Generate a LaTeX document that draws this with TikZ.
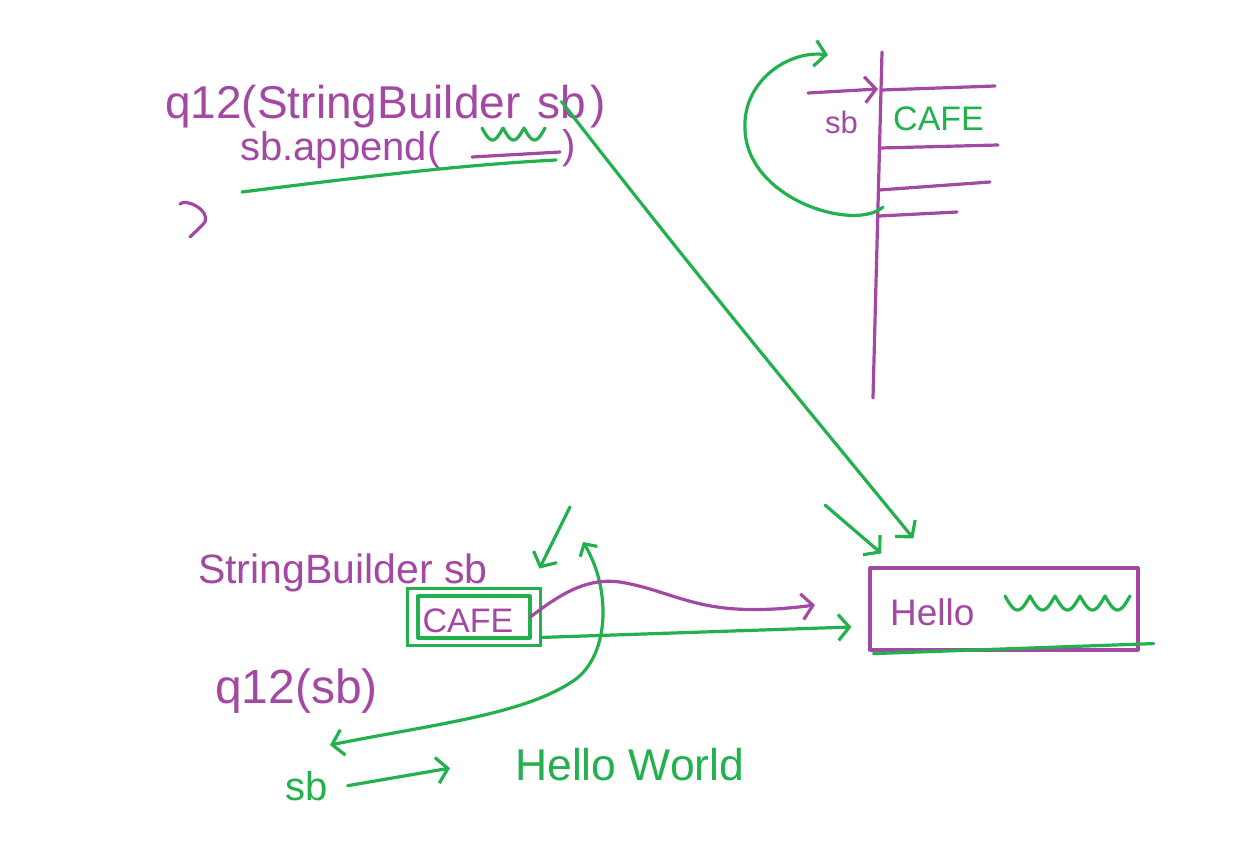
\documentclass[tikz,border=0pt]{standalone}
\usepackage{fontspec}
\setmainfont{Liberation Sans}
\usetikzlibrary{arrows.meta,calc}
\definecolor{pur}{RGB}{163,73,164}
\definecolor{grn}{RGB}{34,177,76}
\begin{document}
\begin{tikzpicture}[x=1pt,y=-1pt,
  pen/.style={line width=3.2pt,line cap=round,line join=round},
  pp/.style={pen,draw=pur},
  gp/.style={pen,draw=grn},
  tip/.style={-{Straight Barb[length=11pt,width=26pt]}},
  bitip/.style={{Straight Barb[length=9pt,width=20pt]}-{Straight Barb[length=11pt,width=26pt]}},
  pt/.style={text=pur,inner sep=0pt,anchor=base west},
  gt/.style={text=grn,inner sep=0pt,anchor=base west},
  fs/.style={font=\fontsize{#1}{#1}\selectfont},
  ]
\fill[white] (0,0) rectangle (1254,841);
\useasboundingbox (0,0) rectangle (1254,841);

% ---- top-left code ----
\node[pt,fs=46] (sig) at (165,118) {q12(StringBuilder};
\node[pt,fs=46] (sbtop) at (537,118) {sb};
\node[pt,fs=46] (rp1) at (590,118) {)};
\node[pt,fs=40] (app) at (240,160) {sb.append(};
\draw[gp] plot[domain=0:3,samples=61] ({482+21*\x},{128+12*abs(sin(180*\x))});
\draw[pp] (472,157) -- (560,152);
\node[pt,fs=40] (rp2) at (562,158) {)};
\draw[gp] (242,192) .. controls (400,172) and (480,164) .. (556,160);
\draw[pp] (180,204) .. controls (186,198) and (210,210) .. (205,222)
  .. controls (200,228) and (195,232) .. (190,237);

% ---- memory diagram ----
\coordinate (m0) at (882,52);
\coordinate (m1) at (873,398);
\draw[pp] (m0) -- (m1);
\draw[pp] (882,90) -- (995,86);
\draw[pp] (880,148) -- (998,145);
\draw[pp] (879,190) -- (990,182);
\draw[pp] (879,216) -- (957,212);
\node[gt,fs=34] (cafetop) at (893,130) {CAFE};
\node[pt,fs=31] (sbmem) at (825,133) {sb};
\coordinate (pa) at (808,93);
\coordinate (pb) at (878,89);
\draw[pp,tip] (pa) -- (pb);
\coordinate (la) at (883,207);
\coordinate (lb) at (828,55);
\draw[gp,tip] (la) .. controls (855,232) and (748,200) .. (745,130)
  .. controls (742,80) and (790,50) .. (lb);

% ---- bottom ----
\node[pt,fs=41] (bsb) at (198,583) {StringBuilder sb};
\node[draw=grn,line width=3.8pt,minimum width=133pt,minimum height=57pt,inner sep=0pt] (cafebox) at (474,617) {};
\draw[gp] (418,596) rectangle (530,638);
\node[pt,fs=34,anchor=base] (cafeb) at (468,632) {CAFE};
\coordinate (ga) at (570,507);
\draw[gp,tip] (ga) -- ($(cafebox.north east)+(-3,-18)$);
\coordinate (da) at (583,542);
\coordinate (db) at (330,745);
\draw[gp,bitip] (da) .. controls (612,590) and (610,660) .. (570,683)
  .. controls (520,715) and (430,725) .. (db);
\node[pt,fs=48] (q2) at (215,703) {q12(sb)};
\node[gt,fs=40] (sbb) at (285,800) {sb};
\node[gt,fs=44.5] (hw) at (515,780) {Hello World};
\draw[gp,tip] ([xshift=20pt]sbb.east) -- ([xshift=-65pt,yshift=-4pt]hw.west);

% ---- Hello box ----
\node[pp,minimum width=268pt,minimum height=82pt,inner sep=0pt] (hellobox) at (1004,609) {};
\node[pt,fs=37] (hellot) at (890,625) {Hello};
\draw[gp] plot[domain=0:5,samples=101] ({1005+25*\x},{596+14*abs(sin(180*\x))});
\draw[gp] ($(hellobox.south west)+(5,2)$) -- ($(hellobox.south east)+(14,-8)$);

\draw[pp,tip] ($(cafebox.east)+(-12,0)$) .. controls (565,590) and (590,578) .. (620,582)
  .. controls (680,592) and (700,620) .. (815,605);
\draw[gp,tip] ($(cafebox.south east)+(0,-10)$) -- ($(hellobox.west)+(-17,18)$);
\draw[gp,tip] (sbtop.center) .. controls (700,280) and (800,400) .. ($(hellobox.north west)+(45,-28)$);
\coordinate (s2) at (825,505);
\draw[gp,tip] (s2) -- ($(hellobox.north west)+(13,-13)$);
\end{tikzpicture}
\end{document}
